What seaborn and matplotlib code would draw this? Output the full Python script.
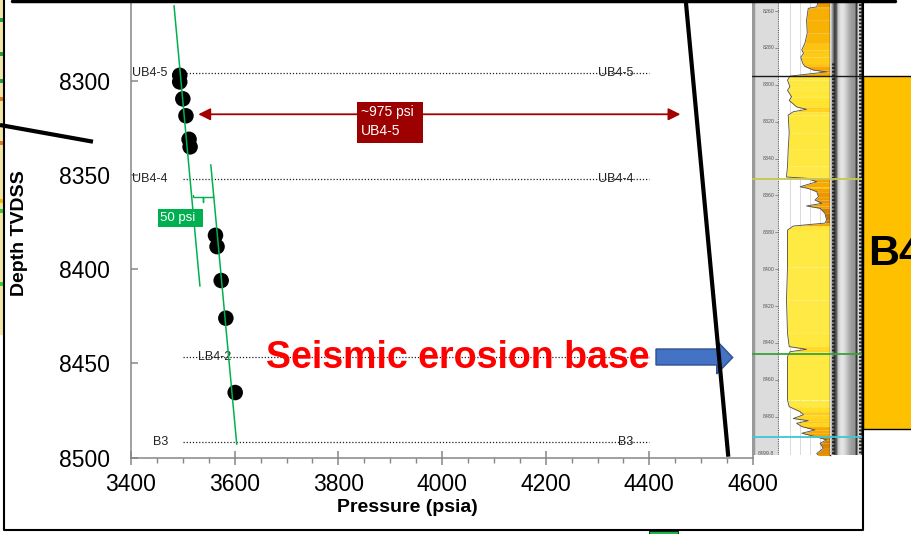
import matplotlib
matplotlib.use('Agg')
import numpy as np
import matplotlib.pyplot as plt
from matplotlib.patches import Rectangle, Polygon
from matplotlib.lines import Line2D
from matplotlib.colors import LinearSegmentedColormap, Normalize
from matplotlib.ticker import MultipleLocator
import seaborn as sns

# pressure test points
pressure = [3494, 3494, 3500, 3506, 3512, 3514, 3563, 3566, 3574, 3583, 3601]
depth = [8297, 8300.5, 8309.5, 8318.5, 8331, 8335, 8382, 8388, 8406, 8426, 8465.5]

# fitted gradient lines (upper and lower group)
upper_p = [3483, 3533]
upper_d = [8260, 8409]
lower_p = [3554, 3604]
lower_d = [8344.5, 8493]

# formation tops
top_names = ['UB4-5', 'UB4-4', 'LB4-2', 'B3']
top_depths = [8296, 8352, 8446.5, 8492]
top_log_colors = ['#1a1a1a', '#c8c84e', '#3aa23a', '#3cc8d6']

# gamma ray log on the right panel
gr_depth = [8254, 8257.7, 8258.5, 8265, 8272, 8277.5, 8281, 8283, 8285, 8288.5,
            8290, 8292, 8293, 8295.3, 8297.5, 8301, 8303, 8306.5, 8308.5, 8312,
            8313.3, 8314.6, 8316.4, 8326, 8335, 8344, 8350, 8350.7, 8352.6, 8355.3,
            8356.2, 8358, 8360.7, 8362.5, 8364.3, 8365.7, 8367, 8369.7, 8373.3, 8375,
            8376.6, 8378.8, 8380.6, 8398.7, 8416.7, 8434.8, 8442, 8443.5, 8444.8, 8447.5,
            8453, 8471, 8474.6, 8477.3, 8479, 8481, 8482.2, 8483.6, 8485.4, 8487.2,
            8489, 8491, 8492.6, 8494.4, 8497.2, 8500, 8502.5]
gr_value = [116, 111, 86, 81, 83, 76, 67, 72, 64, 70,
            76, 101, 140, 32, 25, 32, 25, 37, 30, 52,
            81, 42, 27, 30, 27, 25, 22, 81, 111, 62,
            86, 111, 116, 106, 126, 81, 121, 135, 140, 135,
            42, 25, 25, 25, 22, 25, 30, 81, 32, 25,
            25, 25, 30, 62, 72, 42, 86, 52, 67, 106,
            67, 111, 140, 121, 130, 111, 121]
log_depth_labels = [8260, 8280, 8300, 8320, 8340, 8360, 8380, 8400, 8420, 8440, 8460, 8480]

W, H = 912, 534


def box(x0, y0, x1, y1):
    return [x0 / W, 1 - y1 / H, (x1 - x0) / W, (y1 - y0) / H]


def fx(px):
    return px / W


def fy(py):
    return 1 - py / H


sns.set_theme(style='white')
plt.rcParams['font.family'] = ['Liberation Sans', 'DejaVu Sans']

fig = plt.figure(figsize=(9.12, 5.34), dpi=100)
fig.patch.set_facecolor('white')

# ---- main pressure plot
ax = fig.add_axes(box(131, 0, 753, 457.5))
ax.set_facecolor('white')

for i, (name, d) in enumerate(zip(top_names, top_depths)):
    ax.hlines(d, 3500, 4400, colors='#222222', lw=0.9, linestyles=(0, (1, 1.5)), zorder=1)
    if name == 'LB4-2':
        ax.text(3529, d, name, fontsize=9, color='#222222', ha='left', va='center', zorder=2)
    else:
        ax.text(3471, d, name, fontsize=9, color='#222222', ha='right', va='center', zorder=2)
        ax.text(4369, d, name, fontsize=9, color='#222222', ha='right', va='center', zorder=2)

sns.scatterplot(x=pressure, y=depth, s=125, color='black', edgecolor='none', zorder=3, ax=ax)
sns.lineplot(x=upper_p, y=upper_d, sort=False, estimator=None, color='#00b050', lw=1.1, zorder=4, ax=ax)
sns.lineplot(x=lower_p, y=lower_d, sort=False, estimator=None, color='#00b050', lw=1.1, zorder=4, ax=ax)

# 50 psi bracket and label
ax.plot([3520, 3520, 3539.5, 3539.5, 3539.5, 3557.5, 3557.5],
        [8360.5, 8361.8, 8361.8, 8364.2, 8361.8, 8361.8, 8360.5],
        color='#00b050', lw=1.0, zorder=4)
ax.add_patch(Rectangle((3452, 8368), 87, 9.6, facecolor='#00b050', edgecolor='none', zorder=5))
ax.text(3456, 8372.8, '50 psi', fontsize=9.5, color='white', ha='left', va='center', zorder=6)

# ~975 psi arrow and label
ax.annotate('', xy=(3529.8, 8317.7), xytext=(4460, 8317.7),
            arrowprops=dict(arrowstyle='<|-|>', color='#a30000', lw=1.3,
                            mutation_scale=18, shrinkA=0, shrinkB=0), zorder=5)
ax.add_patch(Rectangle((3836.4, 8311.3), 127.3, 21.5, facecolor='#9c0000', edgecolor='none', zorder=6))
ax.text(3843.5, 8316.6, '~975 psi', fontsize=10, color='white', ha='left', va='center', zorder=7)
ax.text(3843.5, 8326.4, 'UB4-5', fontsize=10, color='white', ha='left', va='center', zorder=7)

ax.text(4029.7, 8452.6, 'Seismic erosion base', fontsize=27, fontweight='bold',
        color='#ff0000', ha='center', va='baseline', zorder=6)

ax.set_xlim(3400, 4600)
ax.set_ylim(8500, 8257)
ax.xaxis.set_major_locator(MultipleLocator(200))
ax.xaxis.set_minor_locator(MultipleLocator(50))
ax.yaxis.set_major_locator(MultipleLocator(50))
ax.tick_params(axis='x', which='major', direction='inout', length=10, width=1.1,
               color='#868686', labelsize=16.5, labelcolor='black', pad=6.5, bottom=True)
ax.tick_params(axis='x', which='minor', direction='out', length=3.6, width=1.0,
               color='#868686', bottom=True)
ax.tick_params(axis='y', which='major', direction='in', length=5, width=1.1,
               color='#868686', labelsize=16.5, labelcolor='black', pad=15, left=True)
for side in ['top', 'right']:
    ax.spines[side].set_visible(False)
for side in ['left', 'bottom']:
    ax.spines[side].set_color('#868686')
    ax.spines[side].set_linewidth(1.1)

ax.set_xlabel('Pressure (psia)', fontsize=14, fontweight='bold', color='black')
ax.set_ylabel('Depth TVDSS', fontsize=14, fontweight='bold', color='black')
ax.xaxis.set_label_coords(0.4445, -0.091)
ax.yaxis.set_label_coords(-0.166, 0.49)

# ---- log panel: depth track
lo, hi = 8500.8, 8254
dax = fig.add_axes(box(752, 0, 779, 455))
dax.set_facecolor('#dcdcdc')
dax.set_xlim(0, 1)
dax.set_ylim(lo, hi)
for d in log_depth_labels:
    dax.text(0.62, d, str(d), fontsize=3.8, color='#555555', ha='center', va='center')
    dax.plot([0.85, 1.0], [d, d], color='#777777', lw=0.5)
dax.text(0.5, 8499.8, '8499.8', fontsize=3.8, color='#555555', ha='center', va='center')
dax.axvline(0.98, color='#666666', lw=0.8, ls=(0, (1, 1)))
dax.set_xticks([])
dax.set_yticks([])
for s in dax.spines.values():
    s.set_visible(False)
dax.axvline(0.04, color='#9a9a9a', lw=2.5)

# gamma ray track
gax = fig.add_axes(box(779, 0, 830, 455))
gax.set_facecolor('white')
gax.set_xlim(0, 150)
gax.set_ylim(lo, hi)
for g in [32, 62, 91, 121]:
    gax.axvline(g, color='#d4d4d4', lw=0.6, zorder=0)
cmap = LinearSegmentedColormap.from_list(
    'gr', [(0, '#fff36b'), (0.25, '#ffe52e'), (0.43, '#ffd11a'), (0.57, '#f7aa00'),
           (0.75, '#ee9800'), (1.0, '#b06400')])
norm = Normalize(0, 150)
for i in range(len(gr_depth) - 1):
    gax.fill_betweenx([gr_depth[i], gr_depth[i + 1]], [gr_value[i], gr_value[i + 1]], 150,
                      color=cmap(norm((gr_value[i] + gr_value[i + 1]) / 2)), lw=0, zorder=1)
sns.lineplot(x=gr_value, y=gr_depth, sort=False, estimator=None, orient='y',
             color='#4d4d4d', lw=0.6, zorder=2, ax=gax)
gax.set_xlim(0, 150)
gax.set_ylim(lo, hi)
gax.set_xticks([])
gax.set_yticks([])
gax.set_xlabel('')
gax.set_ylabel('')
for s in ['top', 'bottom', 'left']:
    gax.spines[s].set_visible(False)
gax.spines['right'].set_color('#222222')
gax.spines['right'].set_linewidth(1.0)

# well bore column
cax = fig.add_axes(box(830, 0, 863, 455))
cax.set_xlim(830, 863)
cax.set_ylim(lo, hi)
grad = np.array([[0.85, 0.55, 0.25, 0.35, 0.78, 0.86, 0.9, 0.88, 0.82, 0.75, 0.68, 0.62, 0.6, 0.58, 0.2, 0.85, 0.85, 0.15]])
cax.imshow(grad, cmap='gray', vmin=0, vmax=1, aspect='auto',
           extent=[830, 863, lo, hi], interpolation='bilinear')
cax.plot([833.5, 833.5], [8288, lo], color='#222222', lw=2.2, ls=(0, (0.6, 0.6)))
cax.plot([860, 860], [hi, lo], color='#222222', lw=2.2, ls=(0, (0.6, 0.6)))
cax.set_xticks([])
cax.set_yticks([])
for s in cax.spines.values():
    s.set_visible(False)

for a in [dax, gax, cax]:
    for d, c in zip(top_depths, top_log_colors):
        lw = 1.0 if c == '#1a1a1a' else 1.3
        a.axhline(d - 0.7, color=c, lw=lw, zorder=5)

# ---- slide decorations
fig.add_artist(Rectangle((fx(863), fy(428.5)), (W - 863) / W, (428.5 - 75.5) / H,
                         transform=fig.transFigure, facecolor='#ffc000', edgecolor='black', lw=1.0))
fig.text(fx(868), fy(254), 'B4', fontsize=31, fontweight='bold', color='black', ha='left', va='center')

fig.add_artist(Line2D([fx(0), fx(93)], [fy(125), fy(141.7)], lw=3, color='black',
                      transform=fig.transFigure, solid_capstyle='butt'))
fig.add_artist(Line2D([fx(685.7), fx(728.3)], [fy(0), fy(456.7)], lw=3, color='black',
                      transform=fig.transFigure, solid_capstyle='butt'))
fig.add_artist(Line2D([fx(12), fx(895)], [fy(1), fy(1)], lw=2.5, color='black',
                      transform=fig.transFigure))

arrow_pts = [(656, 349), (716.7, 349), (716.7, 340.7), (732.7, 357.5),
             (716.7, 374), (716.7, 365), (656, 365)]
fig.add_artist(Polygon([(fx(x), fy(y)) for x, y in arrow_pts], closed=True,
                       transform=fig.transFigure, facecolor='#4472c4', edgecolor='#2f528f', lw=1.0))

# panel border and left strip
fig.add_artist(Rectangle((0, fy(335)), fx(3.5), 335 / H, transform=fig.transFigure,
                         facecolor='#f3e7a6', edgecolor='none'))
for y0, c in [(18, '#1e9e4a'), (52, '#1e9e4a'), (79, '#1e9e4a'), (97, '#e07b20'),
              (141, '#e07b20'), (199, '#f0c000'), (209, '#2fd02f'), (282, '#2fd02f')]:
    fig.add_artist(Rectangle((0, fy(y0 + 4)), fx(3.5), 4 / H, transform=fig.transFigure,
                             facecolor=c, edgecolor='none'))
fig.add_artist(Line2D([fx(4.5), fx(4.5), fx(863), fx(863)], [fy(0), fy(530), fy(530), fy(0)],
                      lw=1.5, color='black', transform=fig.transFigure))
fig.add_artist(Rectangle((fx(649), 0), fx(29), 3.5 / H, transform=fig.transFigure,
                         facecolor='#22b14c', edgecolor='black', lw=0.6))

fig.savefig('out.png', dpi=100)
